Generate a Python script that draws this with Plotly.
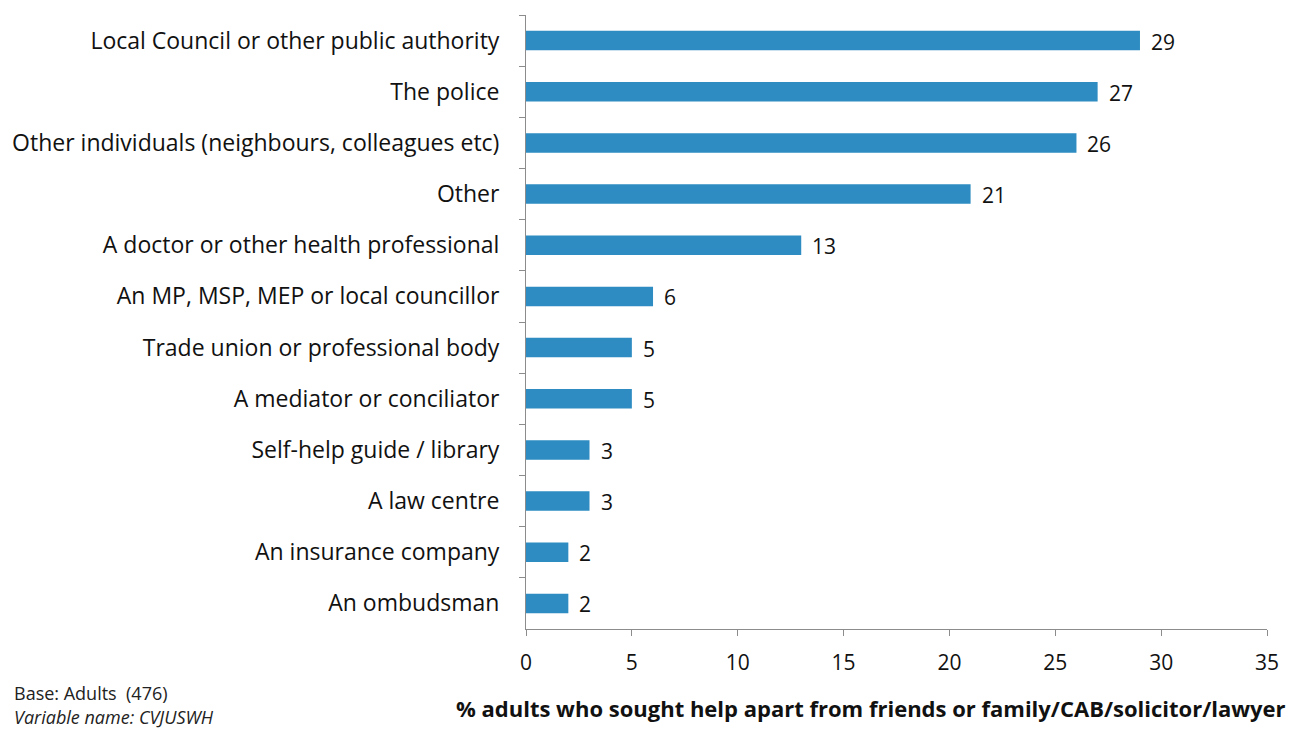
import plotly.graph_objects as go

# Sources of help, listed top to bottom
sources = [
    "Local Council or other public authority",
    "The police",
    "Other individuals (neighbours, colleagues etc)",
    "Other",
    "A doctor or other health professional",
    "An MP, MSP, MEP or local councillor",
    "Trade union or professional body",
    "A mediator or conciliator",
    "Self-help guide / library",
    "A law centre",
    "An insurance company",
    "An ombudsman",
]
percent = [29, 27, 26, 21, 13, 6, 5, 5, 3, 3, 2, 2]
x_ticks = [0, 5, 10, 15, 20, 25, 30, 35]

FONT = "Open Sans"
BAR = "#2E8CC2"
AXIS = "#8C8C8C"
INK = "#111111"

fig = go.Figure(
    go.Bar(
        x=percent,
        y=sources,
        orientation="h",
        marker=dict(color=BAR, line=dict(width=0)),
        width=0.38,
        hoverinfo="x+y",
    )
)

# Value labels just past the end of each bar
for src, val in zip(sources, percent):
    fig.add_annotation(
        x=val, y=src, xref="x", yref="y",
        text=str(val), showarrow=False,
        xanchor="left", yanchor="middle", xshift=9, yshift=-1,
        font=dict(family=FONT, size=21, color=INK),
    )

fig.update_layout(
    width=1304,
    height=731,
    margin=dict(l=526, r=37, t=15, b=102),
    paper_bgcolor="white",
    plot_bgcolor="white",
    showlegend=False,
    font=dict(family=FONT, size=21, color=INK),
)

fig.update_xaxes(
    range=[0, 35],
    tickvals=x_ticks,
    ticks="outside",
    ticklen=6,
    tickcolor=AXIS,
    showline=True,
    linecolor=AXIS,
    linewidth=1,
    showgrid=False,
    zeroline=False,
    ticklabelstandoff=9,
    tickfont=dict(family=FONT, size=21, color=INK),
)

fig.update_yaxes(
    categoryorder="array",
    categoryarray=sources,
    autorange="reversed",
    ticks="outside",
    tickson="boundaries",
    ticklen=6,
    tickcolor=AXIS,
    showline=True,
    linecolor=AXIS,
    linewidth=1,
    showgrid=False,
    ticklabelstandoff=21,
    tickfont=dict(family=FONT, size=23, color=INK),
)

# Axis title and footnotes
fig.add_annotation(
    text="<b>% adults who sought help apart from friends or family/CAB/solicitor/lawyer</b>",
    xref="paper", yref="paper", x=0.466, y=-0.129,
    xanchor="center", yanchor="middle", showarrow=False,
    font=dict(family=FONT, size=22, color=INK),
)
fig.add_annotation(
    text="Base: Adults  (476)",
    xref="paper", yref="paper", x=-0.693, y=-0.104,
    xanchor="left", yanchor="middle", showarrow=False,
    font=dict(family=FONT, size=18, color="#222222"),
)
fig.add_annotation(
    text="<i>Variable name: CVJUSWH</i>",
    xref="paper", yref="paper", x=-0.693, y=-0.143,
    xanchor="left", yanchor="middle", showarrow=False,
    font=dict(family=FONT, size=18, color="#222222"),
)

fig.write_html("out.html")
